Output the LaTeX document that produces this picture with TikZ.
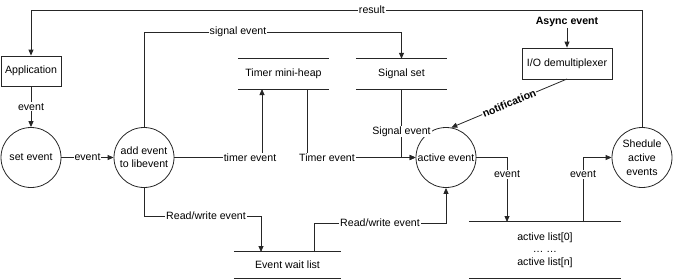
\documentclass[tikz,border=0pt]{standalone}
\usepackage{fontspec}
\setmainfont{Liberation Sans}
\usetikzlibrary{arrows.meta}
\begin{document}
\begin{tikzpicture}[x=1pt,y=-1pt,
  every node/.style={font=\fontsize{10.6}{13}\selectfont},
  line/.style={draw=black!85, line width=0.8pt},
  arr/.style={line, -{Triangle[length=6pt,width=5pt]}},
  circ/.style={circle, line, minimum size=60pt, inner sep=0pt, align=center},
  boxnode/.style={rectangle, line, inner sep=0pt},
  store/.style={inner sep=0pt, align=center},
  lbl/.style={fill=white, inner sep=1pt}]
\useasboundingbox (0,0) rectangle (674,279);

% nodes
\node[boxnode, minimum width=60pt, minimum height=30pt] (app) at (31,71) {Application};
\node[circ] (setev) at (31,157.5) {set event};
\node[circ] (addev) at (144,157.5) {add event\\to libevent};
\node[circ] (actev) at (446,157.5) {active event};
\node[circ, font=\fontsize{10.6}{14}\selectfont] (shed) at (642,157.5) {Shedule\\active\\events};
\node[boxnode, minimum width=90pt, minimum height=31pt] (iodm) at (567,63.5) {I/O demultiplexer};
\node[inner sep=1pt, font=\fontsize{10.6}{13}\selectfont\bfseries] (async) at (567,22) {Async event};

\node[store, minimum width=91pt, minimum height=30pt] (heap) at (283.5,74) {Timer mini-heap};
\node[store, minimum width=91pt, minimum height=30pt] (sigset) at (401.5,74) {Signal set};
\node[store, minimum width=107pt, minimum height=26pt] (wait) at (287.5,265) {Event wait list};
\node[store, minimum width=152pt, minimum height=56pt, font=\fontsize{10.6}{12.5}\selectfont] (alist) at (545,250) {active list[0]\\… …\\active list[n]};

\foreach \s in {heap,sigset,wait,alist}{
  \draw[line] (\s.north west) -- (\s.north east);
  \draw[line] (\s.south west) -- (\s.south east);
}

% coordinates
\coordinate (r1) at (642,10);
\coordinate (r2) at (31,10);
\coordinate (s1) at (144,32);
\coordinate (s2) at (401.5,32);
\coordinate (t1) at (262,157.5);
\coordinate (t2) at (262,89);
\coordinate (h1) at (307,89);
\coordinate (h2) at (307,157.5);
\coordinate (g1) at (401.5,157.5);
\coordinate (w1) at (144,216);
\coordinate (w2) at (261,216);
\coordinate (w3) at (261,252);
\coordinate (v1) at (314,252);
\coordinate (v2) at (314,223);
\coordinate (v3) at (446,223);
\coordinate (e1) at (507,157.5);
\coordinate (e2) at (507,222);
\coordinate (f1) at (583,222);
\coordinate (f2) at (583,157.5);
\coordinate (n1) at (567,79);

% connectors
\draw[arr] (shed.north) -- (r1) -- node[lbl, pos=0.442]{result} (r2) -- (app.north);
\draw[arr] (app.south) -- node[lbl]{event} (setev.north);
\draw[arr] (setev.east) -- node[lbl]{event} (addev.west);
\draw[arr] (addev.north) -- (s1) -- node[lbl, pos=0.365]{signal event} (s2) -- (sigset.north);
\draw[arr] (addev.east) -- (t1) -- (t2);
\node[lbl] at (250,157.5) {timer event};
\draw[arr] (h1) -- (h2) -- (actev.west);
\node[lbl] at (327,157.5) {Timer event};
\draw[arr] (sigset.south) -- node[lbl, pos=0.62]{Signal event} (g1) -- (actev.west);
\draw[arr] (n1) -- node[lbl, sloped, inner sep=0.5pt, font=\fontsize{10.6}{13}\selectfont\bfseries]{notification} (actev.80);
\draw[arr] (async.south) -- (iodm.north);
\draw[arr] (addev.south) -- (w1) -- node[lbl, pos=0.53]{Read/write event} (w2) -- (w3);
\draw[arr] (v1) -- (v2) -- node[lbl, pos=0.5]{Read/write event} (v3) -- (actev.south);
\draw[arr] (actev.east) -- (e1) -- node[lbl, pos=0.26]{event} (e2);
\draw[arr] (f1) -- node[lbl, pos=0.74]{event} (f2) -- (shed.west);
\end{tikzpicture}
\end{document}
